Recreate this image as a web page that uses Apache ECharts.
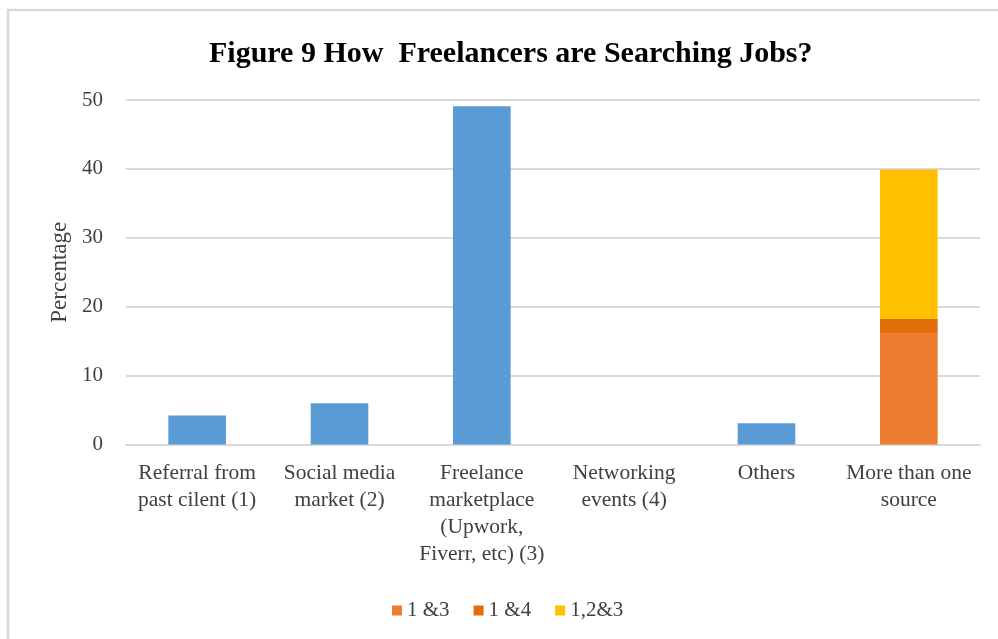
<!DOCTYPE html>
<html>
<head>
<meta charset="utf-8">
<script src="https://cdn.jsdelivr.net/npm/echarts@6/dist/echarts.min.js"></script>
<style>
  html, body { margin: 0; padding: 0; background: #ffffff; }
  #chart { width: 998px; height: 639px; }
</style>
</head>
<body>
<div id="chart"></div>
<script>
// Job-search channels used by freelancers (percent of respondents)
const categories = [
  'Referral from\npast cilent (1)',
  'Social media\nmarket (2)',
  'Freelance\nmarketplace\n(Upwork,\nFiverr, etc) (3)',
  'Networking\nevents (4)',
  'Others',
  'More than one\nsource'
];
const singleSource = [4.2, 6.0, 49.1, 0, 3.1, 0];
// Breakdown of the "more than one source" group
const combo13  = [0, 0, 0, 0, 0, 16.2];
const combo14  = [0, 0, 0, 0, 0, 2.0];
const combo123 = [0, 0, 0, 0, 0, 21.7];
const yTicks = { min: 0, max: 50, interval: 10 };

const serif = '"Liberation Serif", "Times New Roman", serif';
const textColor = '#404040';
const gridColor = '#d9d9d9';

const chart = echarts.init(document.getElementById('chart'), null, { renderer: 'canvas' });

function nz(arr) { return arr.map(v => (v === 0 ? '-' : v)); }

chart.setOption({
  animation: false,
  backgroundColor: '#ffffff',
  graphic: [{
    type: 'rect',
    shape: { x: 8, y: 10, width: 1000, height: 640 },
    style: { fill: 'none', stroke: '#d9d9d9', lineWidth: 2.5 },
    silent: true
  }],
  title: {
    text: 'Figure 9 How  Freelancers are Searching Jobs?',
    left: 204,
    top: 34,
    textStyle: { fontFamily: serif, fontWeight: 'bold', fontSize: 30, color: '#000000' }
  },
  legend: {
    data: ['1 &3', '1 &4', '1,2&3'],
    left: 387,
    top: 595,
    icon: 'rect',
    itemWidth: 10,
    itemHeight: 10,
    itemGap: 24,
    textStyle: { fontFamily: serif, fontSize: 21, color: textColor }
  },
  grid: { left: 126, right: 18, top: 100, bottom: 194.5, containLabel: false },
  xAxis: {
    type: 'category',
    data: categories,
    axisLine: { lineStyle: { color: gridColor, width: 2 } },
    axisTick: { show: false },
    axisLabel: {
      interval: 0,
      margin: 15,
      fontFamily: serif,
      fontSize: 21.5,
      lineHeight: 27,
      color: textColor
    }
  },
  yAxis: {
    type: 'value',
    min: yTicks.min,
    max: yTicks.max,
    interval: yTicks.interval,
    name: 'Percentage',
    nameLocation: 'middle',
    nameGap: 55,
    nameRotate: 90,
    nameTextStyle: { fontFamily: serif, fontSize: 23, color: textColor },
    axisLine: { show: false },
    axisTick: { show: false },
    axisLabel: { margin: 23, fontFamily: serif, fontSize: 21, color: textColor },
    splitLine: { lineStyle: { color: gridColor, width: 2 } }
  },
  series: [
    {
      name: 'Share',
      type: 'bar',
      stack: 'total',
      barWidth: '40.5%',
      data: singleSource,
      itemStyle: { color: '#5B9BD5' }
    },
    {
      name: '1 &3',
      type: 'bar',
      stack: 'total',
      data: nz(combo13),
      itemStyle: { color: '#ED7D31' }
    },
    {
      name: '1 &4',
      type: 'bar',
      stack: 'total',
      data: nz(combo14),
      itemStyle: { color: '#E26B0A' }
    },
    {
      name: '1,2&3',
      type: 'bar',
      stack: 'total',
      data: nz(combo123),
      itemStyle: { color: '#FFC000' }
    }
  ]
});
</script>
</body>
</html>
